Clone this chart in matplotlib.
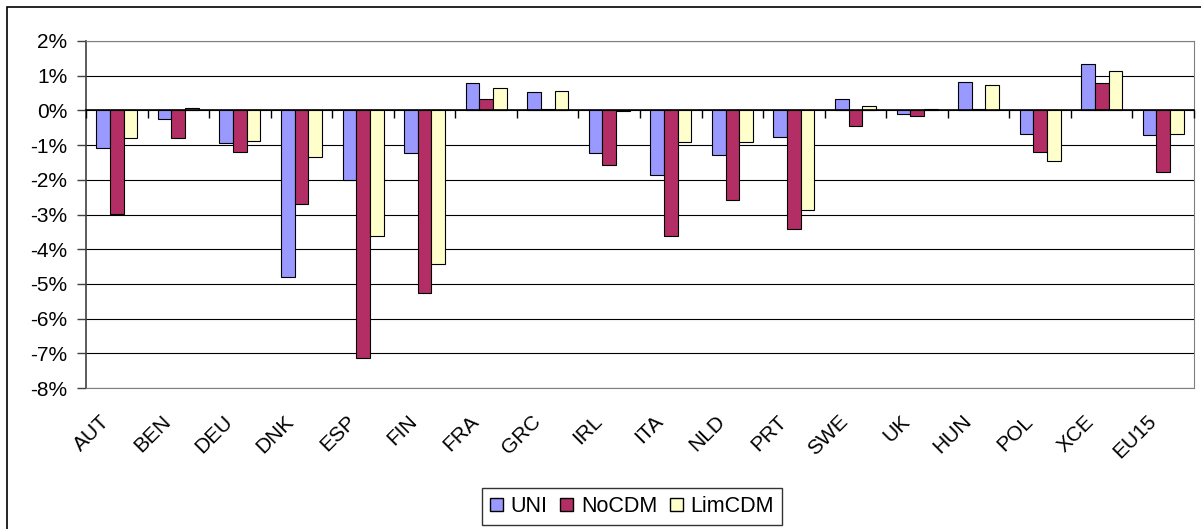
import matplotlib.pyplot as plt
import matplotlib.patches as mpatches
import matplotlib.transforms as mtransforms
import numpy as np

plt.rcParams['font.family'] = ['Liberation Sans', 'DejaVu Sans']

# data (percent change)
countries = ['AUT', 'BEN', 'DEU', 'DNK', 'ESP', 'FIN', 'FRA', 'GRC', 'IRL',
             'ITA', 'NLD', 'PRT', 'SWE', 'UK', 'HUN', 'POL', 'XCE', 'EU15']
uni = [-1.07, -0.25, -0.95, -4.81, -2.01, -1.24, 0.78, 0.52, -1.24,
       -1.85, -1.29, -0.78, 0.32, -0.09, 0.81, -0.68, 1.35, -0.71]
nocdm = [-2.99, -0.79, -1.20, -2.71, -7.14, -5.26, 0.32, 0.03, -1.58,
         -3.62, -2.59, -3.42, -0.45, -0.17, 0.03, -1.20, 0.78, -1.77]
limcdm = [-0.79, 0.08, -0.87, -1.33, -3.61, -4.44, 0.64, 0.56, -0.03,
          -0.92, -0.92, -2.88, 0.12, 0.03, 0.73, -1.45, 1.14, -0.68]
series_names = ['UNI', 'NoCDM', 'LimCDM']
colors = ['#9999FF', '#B22E64', '#FFFFCC']

fig = plt.figure(figsize=(12.01, 5.29), dpi=100)
ax = fig.add_axes([0.0716, 0.2665, 0.9226, 0.656])

# outer chart frame (cut off at right and bottom)
frame = mpatches.Rectangle((7 / 1201, -0.05), 1.1, 1.05 - 7 / 529,
                           transform=fig.transFigure, fill=False,
                           edgecolor='black', linewidth=1.2)
fig.patches.append(frame)

x = np.arange(len(countries))
w = 0.222
for i, (vals, name, c) in enumerate(zip([uni, nocdm, limcdm], series_names, colors)):
    ax.bar(x + (i - 1) * w, vals, width=w, color=c, edgecolor='black',
           linewidth=0.8, label=name, zorder=3)

ax.set_xlim(-0.5, len(countries) - 0.5)
ax.set_ylim(-8, 2)
ax.set_yticks(np.arange(-8, 3, 1))
ax.set_yticklabels([f'{v}%' for v in range(-8, 3)], fontsize=15)
ax.yaxis.grid(True, color='black', linewidth=0.8, zorder=0)
ax.tick_params(axis='y', direction='out', length=6.5, width=1, pad=7, color='#404040')

ax.set_xticks(x)
ax.set_xticklabels(countries, fontsize=15, rotation=45, ha='right',
                   va='top', rotation_mode='anchor')
ax.tick_params(axis='x', length=0, pad=17)
shift = mtransforms.ScaledTranslation(-17 / 100, 0, fig.dpi_scale_trans)
for lab in ax.get_xticklabels():
    lab.set_transform(lab.get_transform() + shift)

for side in ['top', 'right', 'bottom']:
    ax.spines[side].set_color('#808080')
ax.spines['left'].set_color('#404040')
ax.spines['left'].set_linewidth(1.2)

# category axis at zero with boundary ticks
zax = ax.secondary_xaxis(0, transform=ax.transData)
zax.set_xticks(np.arange(len(countries) + 1) - 0.5)
zax.set_xticklabels([])
zax.tick_params(direction='out', length=5.5, width=1, color='black')
zax.spines['bottom'].set_color('black')
zax.spines['bottom'].set_linewidth(1.2)
zax.set_zorder(4)

handles = [mpatches.Patch(facecolor=c, edgecolor='black', linewidth=1.0) for c in colors]
leg = fig.legend(handles, series_names, loc='center', ncol=3,
                 bbox_to_anchor=(632 / 1201, 1 - 506.5 / 529),
                 bbox_transform=fig.transFigure, fontsize=15.5, frameon=True,
                 fancybox=False, edgecolor='black', handlelength=0.6,
                 handleheight=0.6, handletextpad=0.35, columnspacing=0.6,
                 borderpad=0.35, borderaxespad=0)
leg.get_frame().set_linewidth(1.0)

fig.savefig('out.png', dpi=100)
